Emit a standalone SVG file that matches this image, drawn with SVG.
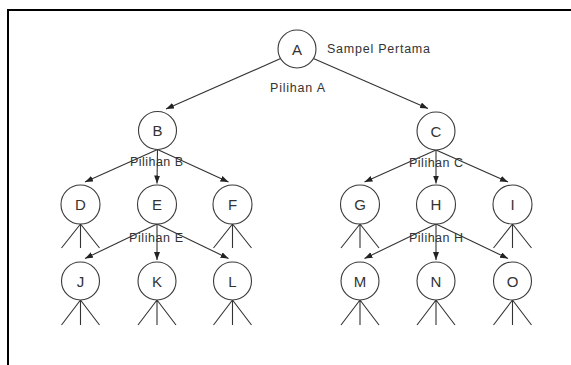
<svg xmlns="http://www.w3.org/2000/svg" width="571" height="365" viewBox="0 0 571 365">
<style>
  .node circle { fill: #ffffff; stroke: #3a3a3a; stroke-width: 1.1; }
  .node text { font-family: "Liberation Sans", Arial, sans-serif; font-size: 15px; fill: #333333; text-anchor: middle; }
  .edge { stroke: #333333; stroke-width: 1.1; fill: none; }
  .arrow { marker-end: url(#ah); }
  .leg { stroke: #333333; stroke-width: 1.1; fill: none; }
  .lbl { font-family: "Liberation Sans", Arial, sans-serif; font-size: 12.5px; fill: #333333; }
  .frame { stroke: #000000; stroke-width: 2; fill: none; }
</style>
<defs>
  <marker id="ah" markerUnits="userSpaceOnUse" markerWidth="9" markerHeight="7" refX="8" refY="3" orient="auto">
    <path d="M0,0 L8,3 L0,6 z" fill="#222222"/>
  </marker>
</defs>
<rect width="571" height="365" fill="#ffffff"/>
<path class="frame" d="M8,370 V10 H575"/>

<g id="connectors">
  <line class="edge arrow" x1="280.6" y1="58.6" x2="166" y2="109"/>
  <line class="edge arrow" x1="313.4" y1="58.6" x2="428" y2="108.5"/>

  <line class="edge arrow" x1="157.5" y1="149.5" x2="85" y2="182"/>
  <line class="edge arrow" x1="157.5" y1="149.5" x2="157" y2="183.5"/>
  <line class="edge arrow" x1="157.5" y1="149.5" x2="228.5" y2="182"/>

  <line class="edge arrow" x1="436" y1="150" x2="364.5" y2="182"/>
  <line class="edge arrow" x1="436" y1="150" x2="436" y2="183.5"/>
  <line class="edge arrow" x1="436" y1="150" x2="508" y2="182"/>

  <line class="edge arrow" x1="157" y1="224" x2="85" y2="258.5"/>
  <line class="edge arrow" x1="157" y1="224" x2="157" y2="260"/>
  <line class="edge arrow" x1="157" y1="224" x2="228.5" y2="258.5"/>

  <line class="edge arrow" x1="436" y1="224" x2="364.5" y2="258.5"/>
  <line class="edge arrow" x1="436" y1="224" x2="436" y2="260"/>
  <line class="edge arrow" x1="436" y1="224" x2="508" y2="258.5"/>

  <path class="leg" d="M80.5,224 L61.5,248 M80.5,224 V248 M80.5,224 L99.5,248"/>
  <path class="leg" d="M232.5,224 L213.5,248 M232.5,224 V248 M232.5,224 L251.5,248"/>
  <path class="leg" d="M360,224 L341,248 M360,224 V248 M360,224 L379,248"/>
  <path class="leg" d="M512.5,224 L493.5,248 M512.5,224 V248 M512.5,224 L531.5,248"/>

  <path class="leg" d="M80.5,300 L61.5,325 M80.5,300 V325 M80.5,300 L99.5,325"/>
  <path class="leg" d="M157,300 L138,325 M157,300 V325 M157,300 L176,325"/>
  <path class="leg" d="M232.5,300 L213.5,325 M232.5,300 V325 M232.5,300 L251.5,325"/>
  <path class="leg" d="M360,300 L341,325 M360,300 V325 M360,300 L379,325"/>
  <path class="leg" d="M436,300 L417,325 M436,300 V325 M436,300 L455,325"/>
  <path class="leg" d="M512.5,300 L493.5,325 M512.5,300 V325 M512.5,300 L531.5,325"/>
</g>

<g id="node-A" class="node"><circle cx="297" cy="49" r="19"/><text x="297" y="54.5">A</text></g>
<g id="node-B" class="node"><circle cx="157.5" cy="130.5" r="19"/><text x="157.5" y="136">B</text></g>
<g id="node-C" class="node"><circle cx="436" cy="131" r="19"/><text x="436" y="136.5">C</text></g>
<g id="node-D" class="node"><circle cx="80.5" cy="204.5" r="19.5"/><text x="80.5" y="210">D</text></g>
<g id="node-E" class="node"><circle cx="157" cy="204.5" r="19.5"/><text x="157" y="210">E</text></g>
<g id="node-F" class="node"><circle cx="232.5" cy="204.5" r="19.5"/><text x="232.5" y="210">F</text></g>
<g id="node-G" class="node"><circle cx="360" cy="204.5" r="19.5"/><text x="360" y="210">G</text></g>
<g id="node-H" class="node"><circle cx="436" cy="204.5" r="19.5"/><text x="436" y="210">H</text></g>
<g id="node-I" class="node"><circle cx="512.5" cy="204.5" r="19.5"/><text x="512.5" y="210">I</text></g>
<g id="node-J" class="node"><circle cx="80.5" cy="281" r="19"/><text x="80.5" y="286.5">J</text></g>
<g id="node-K" class="node"><circle cx="157" cy="281" r="19"/><text x="157" y="286.5">K</text></g>
<g id="node-L" class="node"><circle cx="232.5" cy="281" r="19"/><text x="232.5" y="286.5">L</text></g>
<g id="node-M" class="node"><circle cx="360" cy="281" r="19"/><text x="360" y="286.5">M</text></g>
<g id="node-N" class="node"><circle cx="436" cy="281" r="19"/><text x="436" y="286.5">N</text></g>
<g id="node-O" class="node"><circle cx="512.5" cy="281" r="19"/><text x="512.5" y="286.5">O</text></g>

<g id="labels">
  <text class="lbl" x="327" y="52.5" textLength="103" lengthAdjust="spacing">Sampel Pertama</text>
  <text class="lbl" x="270" y="91.5" textLength="55" lengthAdjust="spacing">Pilihan A</text>
  <text class="lbl" x="130" y="165.5" textLength="53" lengthAdjust="spacing">Pilihan B</text>
  <text class="lbl" x="409" y="166.5" textLength="54" lengthAdjust="spacing">Pilihan C</text>
  <text class="lbl" x="129" y="242" textLength="54" lengthAdjust="spacing">Pilihan E</text>
  <text class="lbl" x="409" y="242" textLength="54" lengthAdjust="spacing">Pilihan H</text>
</g>
</svg>
